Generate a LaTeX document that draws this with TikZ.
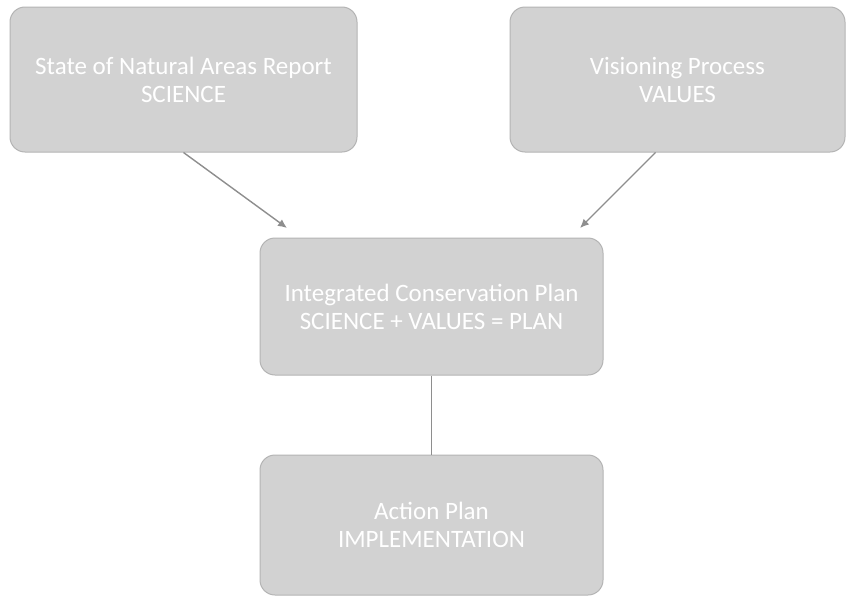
\documentclass[tikz,border=0pt]{standalone}
\usepackage{fontspec}
\setmainfont{Carlito}
\usetikzlibrary{arrows.meta,positioning}
\definecolor{boxfill}{HTML}{D2D2D2}
\definecolor{boxedge}{HTML}{B4B4B4}
\definecolor{linegray}{HTML}{8E8E8E}
\tikzset{
	planbox/.style={rectangle, rounded corners=15pt, draw=boxedge, line width=1pt, fill=boxfill, text=white, align=center, inner sep=0pt, font=\fontsize{25}{28}\selectfont}, % grey boxes with white text
	flow/.style={draw=linegray, line width=1.4pt, -{Latex[length=9pt,width=8pt]}}
}
\begin{document}
\begin{tikzpicture}[x=1pt,y=-1pt,
        link/.style={draw=linegray, line width=1.4pt}
        ]
            \fill[white] (0,0) rectangle (846,597);
            \useasboundingbox (0,0) rectangle (846,597);
            \node[planbox, minimum width=347pt, minimum height=145pt] (SNA) at (183.5,79.5) {State of Natural Areas Report\\SCIENCE};
            \node[planbox, minimum width=335pt, minimum height=145pt] (VP) at (677.5,79.5) {Visioning Process\\VALUES};
            \node[planbox, minimum width=343pt, minimum height=137pt] (ICP) at (431.5,306.5) {Integrated Conservation Plan\\SCIENCE + VALUES = PLAN};
            \node[planbox, minimum width=343pt, minimum height=140pt] (AP) at (431.5,525) {Action Plan\\IMPLEMENTATION};
            \coordinate (inL) at (287,228);
            \coordinate (inR) at (580,228);
            \draw[flow] (SNA.south) -- (inL);
            \draw[flow] ([xshift=-22pt]VP.south) -- (inR);
            \draw[link] (ICP.south) -- (AP.north);
        \end{tikzpicture}
\end{document}
